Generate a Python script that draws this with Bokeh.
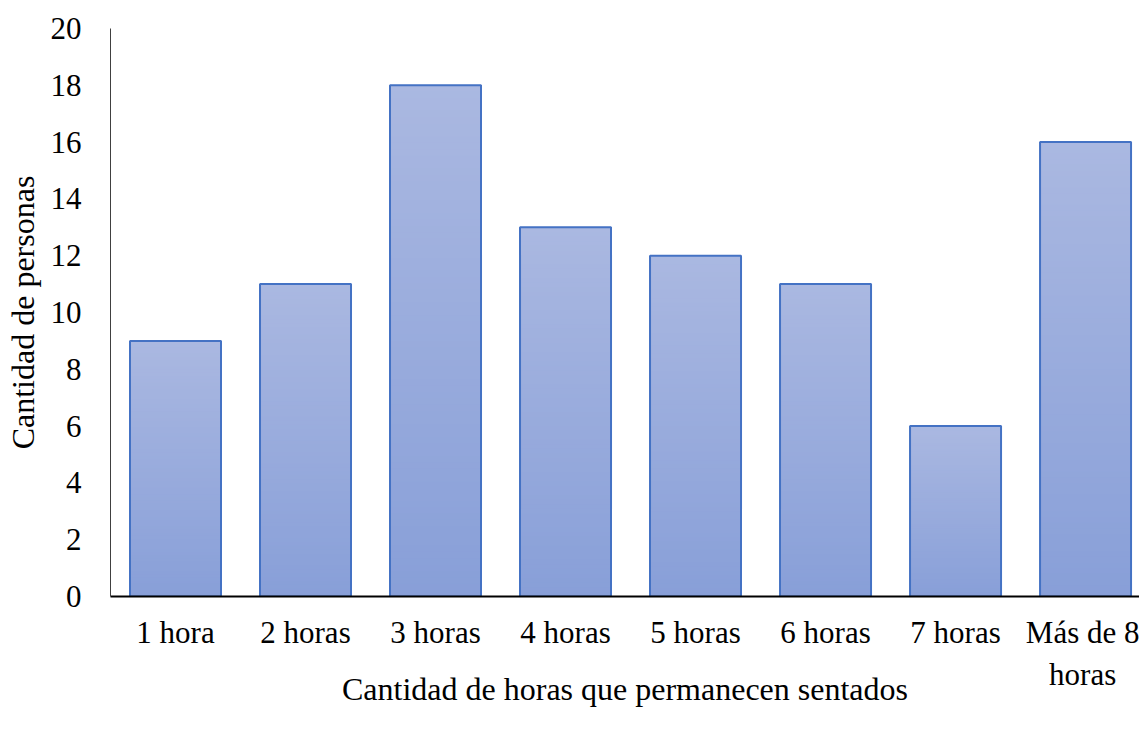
from bokeh.plotting import figure
from bokeh.models import Range1d, FixedTicker
from bokeh.embed import file_html
from bokeh.resources import INLINE

# Data
categories = ["1 hora", "2 horas", "3 horas", "4 horas", "5 horas",
              "6 horas", "7 horas", "Más de 8\nhoras"]
personas = [9, 11, 18, 13, 12, 11, 6, 16]
y_ticks = [0, 2, 4, 6, 8, 10, 12, 14, 16, 18, 20]

FONT = "'Liberation Serif', 'Times New Roman', serif"
TOP_RGB = (0xAA, 0xB8, 0xE1)
BOTTOM_RGB = (0x88, 0x9F, 0xD8)
EDGE = "#4472C4"
BAR_W = 0.7
STEPS = 80

centers = [i + 0.5 for i in range(len(categories))]

p = figure(width=1139, height=730, output_backend="svg", toolbar_location=None,
           x_range=Range1d(0, 7.915), y_range=Range1d(0, 20),
           min_border_left=110, min_border_right=0, min_border_top=28,
           min_border_bottom=134)
p.outline_line_color = None
p.grid.grid_line_color = None
p.background_fill_color = "white"
p.border_fill_color = "white"


def mix(t):
    r, g, b = (round(BOTTOM_RGB[k] + (TOP_RGB[k] - BOTTOM_RGB[k]) * t) for k in range(3))
    return f"#{r:02x}{g:02x}{b:02x}"


# Vertical gradient inside each bar: overlapping layers, each one starting
# a little higher and a little lighter than the one before
lefts, rights, bottoms, tops, colors = [], [], [], [], []
for j in range(STEPS):
    for c, v in zip(centers, personas):
        lefts.append(c - BAR_W / 2)
        rights.append(c + BAR_W / 2)
        bottoms.append(v * j / STEPS)
        tops.append(v)
        colors.append(mix((j + 0.5) / STEPS))
p.quad(left=lefts, right=rights, bottom=bottoms, top=tops,
       fill_color=colors, line_color=None)

# Bar outlines
p.vbar(x=centers, top=personas, width=BAR_W, bottom=0,
       fill_color=None, line_color=EDGE, line_width=2)

# Axes
p.yaxis.ticker = FixedTicker(ticks=y_ticks)
p.xaxis.ticker = FixedTicker(ticks=centers)
p.xaxis.major_label_overrides = {c: lab for c, lab in zip(centers, categories)}

for ax in (p.xaxis[0], p.yaxis[0]):
    ax.major_tick_line_color = None
    ax.minor_tick_line_color = None
    ax.major_label_text_font = FONT
    ax.major_label_text_font_size = "31px"
    ax.major_label_text_color = "black"
    ax.axis_label_text_font = FONT
    ax.axis_label_text_font_size = "32px"
    ax.axis_label_text_font_style = "normal"
    ax.axis_label_text_color = "black"

p.xaxis.axis_line_color = "black"
p.xaxis.axis_line_width = 2
p.xaxis.major_label_standoff = 12
p.xaxis.axis_label = "Cantidad de horas que permanecen sentados"
p.xaxis.axis_label_standoff = -24

p.yaxis.axis_line_color = "#404040"
p.yaxis.axis_line_width = 1
p.yaxis.major_label_standoff = 23
p.yaxis.axis_label = "Cantidad de personas"
p.yaxis.axis_label_standoff = 7

open("out.html", "w").write(file_html(p, INLINE))
